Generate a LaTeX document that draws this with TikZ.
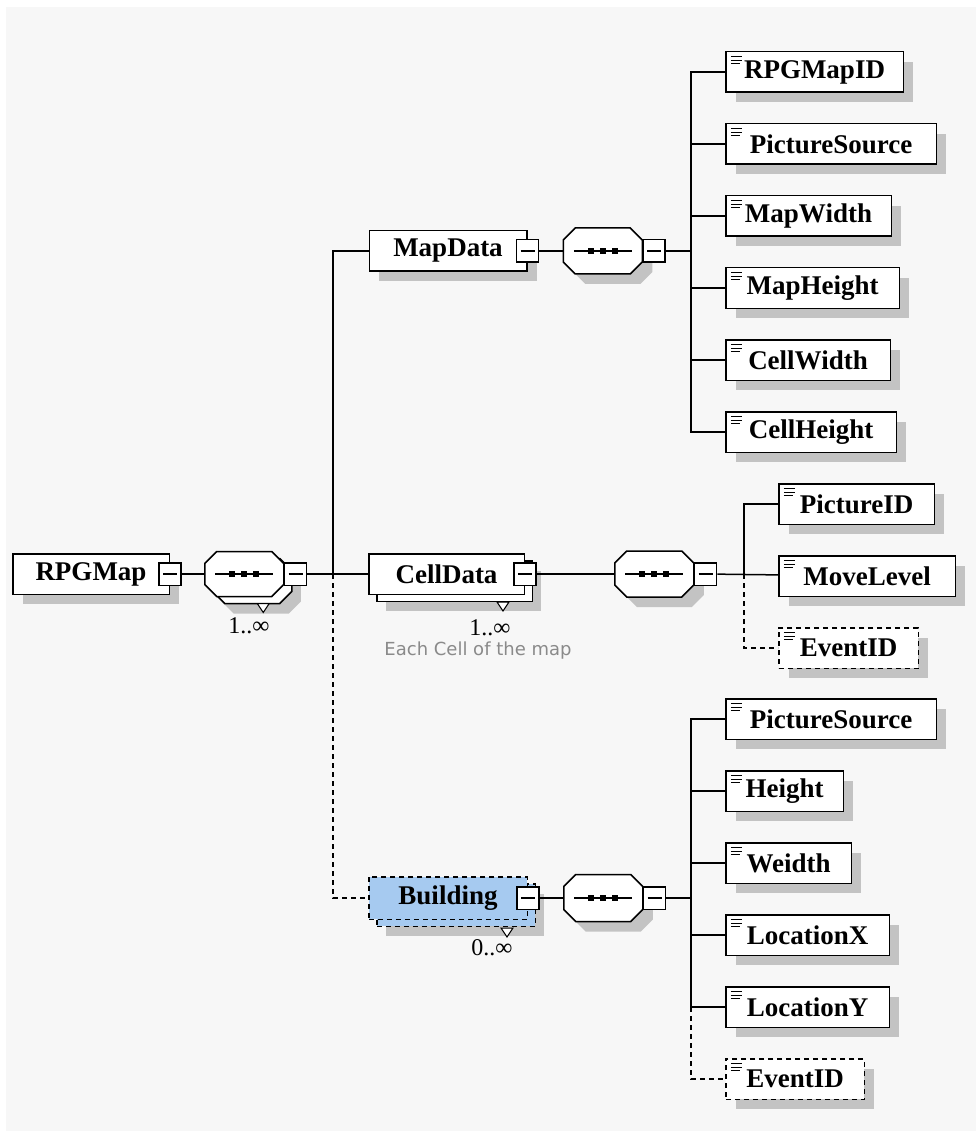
\documentclass[tikz,border=0pt]{standalone}
\usepackage{fontspec}
\setmainfont{Liberation Serif}
\newfontfamily\notefont{DejaVu Sans}
\usetikzlibrary{shadows, positioning}

\definecolor{bggray}{RGB}{247,247,247}
\definecolor{shadowgray}{RGB}{195,195,195}
\definecolor{buildblue}{RGB}{166,202,240}
\definecolor{notegray}{RGB}{138,138,138}

% sequence compositor: octagon with the dotted bar, drawn round a named node
\newcommand{\seqoutline}[2]{%
	\draw[draw=black, fill=white, #2]
		([xshift=12pt]#1.north west) -- ([xshift=-12pt]#1.north east)
		-- ([yshift=-12pt]#1.north east) -- ([yshift=12pt]#1.south east)
		-- ([xshift=-12pt]#1.south east) -- ([xshift=12pt]#1.south west)
		-- ([yshift=12pt]#1.south west) -- ([yshift=-12pt]#1.north west) -- cycle;
	\draw ([xshift=-29pt]#1.center) -- ([xshift=29pt]#1.center);
	\fill[black] ([xshift=-15pt,yshift=-3pt]#1.center) rectangle ++(6pt,6pt);
	\fill[black] ([xshift=-3pt,yshift=-3pt]#1.center) rectangle ++(6pt,6pt);
	\fill[black] ([xshift=9pt,yshift=-3pt]#1.center) rectangle ++(6pt,6pt);
}

\begin{document}
\begin{tikzpicture}[
			x=1pt, y=-1pt,
			line width=1.5pt,
			dashline/.style={dash pattern=on 5pt off 4pt},
			boxshadow/.style={
				drop shadow={shadow xshift=10pt, shadow yshift=-10pt, fill=shadowgray, opacity=1}
			},
			stacked/.style={
				drop shadow={shadow xshift=17pt, shadow yshift=-17pt, fill=shadowgray, opacity=1},
				copy shadow={shadow xshift=8pt, shadow yshift=-7pt}
			},
			element/.style={
				rectangle,
				draw=black,
				fill=white,
				minimum height=40.5pt,
				inner sep=2pt,
				font=\fontsize{27}{30}\selectfont\bfseries
			},
			leaf/.style={
				element,
				boxshadow,
				path picture={
					\draw[line width=1.2pt, solid]
						([xshift=5pt,yshift=-5pt]path picture bounding box.north west) -- ++(11pt,0pt)
						([xshift=5pt,yshift=-8.5pt]path picture bounding box.north west) -- ++(11pt,0pt)
						([xshift=5pt,yshift=-12pt]path picture bounding box.north west) -- ++(9pt,0pt);
				}
			},
			seq/.style={
				rectangle,
				minimum width=79pt,
				minimum height=46pt,
				inner sep=0pt,
				outer sep=0pt
			},
			minusbox/.style={
				rectangle,
				draw=black,
				fill=white,
				solid,
				minimum width=22pt,
				minimum height=22.5pt,
				inner sep=0pt,
				path picture={
					\draw ([xshift=4pt]path picture bounding box.west) -- ([xshift=-4pt]path picture bounding box.east);
				}
			},
			occurs/.style={inner sep=0pt, font=\fontsize{24}{26}\selectfont},
			annot/.style={inner sep=0pt, text=notegray, font=\notefont\fontsize{18}{20}\selectfont}
			]
			
			% Background
			\useasboundingbox (0,0) rectangle (976,1131);
			\fill[white] (0,0) rectangle (976,1131);
			\fill[bggray] (6,7) rectangle (976,1131);
			
			% Root
			\node (rpgmap) [element, boxshadow, minimum width=156.5pt] at (91,574) {RPGMap};
			\node (rpgmapm) [minusbox] at (rpgmap.east) {};
			\node (rootseq) [seq, minimum height=45pt, right=23pt of rpgmapm] {};
			\seqoutline{rootseq}{stacked}
			\node (rootseqm) [minusbox, right=0pt of rootseq] {};
			\node (rootocc) [occurs] at (249,626) {1..∞};
			\coordinate (trunk) at (333,574);
			
			% MapData
			\node (mapdata) [element, boxshadow, minimum width=157.5pt] at (448,251) {MapData};
			\node (mapdatam) [minusbox] at (mapdata.east) {};
			\node (mapseq) [seq, right=24pt of mapdatam] {};
			\seqoutline{mapseq}{boxshadow}
			\node (mapseqm) [minusbox, right=0pt of mapseq] {};
			\coordinate (mapbus) at (691,251);
			
			\node (rpgmapid) [leaf, minimum width=177.5pt, anchor=north west] at (725,51) {RPGMapID};
			\node (mappicsrc) [leaf, minimum width=210.5pt, below=30pt of rpgmapid.south west, anchor=north west] {PictureSource};
			\node (mapwidth) [leaf, minimum width=165.5pt, below=30pt of mappicsrc.south west, anchor=north west] {MapWidth};
			\node (mapheight) [leaf, minimum width=173.5pt, below=30pt of mapwidth.south west, anchor=north west] {MapHeight};
			\node (cellwidth) [leaf, minimum width=164.5pt, below=30pt of mapheight.south west, anchor=north west] {CellWidth};
			\node (cellheight) [leaf, minimum width=170.5pt, below=30pt of cellwidth.south west, anchor=north west] {CellHeight};
			
			% CellData
			\node (celldata) [element, stacked, minimum width=155.5pt] at (446.5,574) {CellData};
			\node (celldatam) [minusbox] at (celldata.east) {};
			\node (cellseq) [seq, right=78pt of celldatam] {};
			\seqoutline{cellseq}{boxshadow}
			\node (cellseqm) [minusbox, right=0pt of cellseq] {};
			\node (cellocc) [occurs] at (490,628) {1..∞};
			\node (cellnote) [annot] at (478,651) {Each Cell of the map};
			\coordinate (cellbus) at (744,574);
			
			\node (pictureid) [leaf, minimum width=155.5pt, anchor=north west] at (778,483) {PictureID};
			\node (movelevel) [leaf, minimum width=176.5pt, below=30pt of pictureid.south west, anchor=north west] {MoveLevel};
			\node (celleventid) [leaf, dashline, minimum width=139.5pt, below=30pt of movelevel.south west, anchor=north west] {EventID};
			
			% Building
			\node (building) [element, stacked, dashline, fill=buildblue, minimum width=158.5pt, minimum height=42.5pt] at (448,898) {Building};
			\node (buildingm) [minusbox] at (building.east) {};
			\node (bldseq) [seq, minimum height=47pt, right=24pt of buildingm] {};
			\seqoutline{bldseq}{boxshadow}
			\node (bldseqm) [minusbox, right=0pt of bldseq] {};
			\node (bldocc) [occurs] at (492,948) {0..∞};
			\coordinate (bldbus) at (691,898);
			
			\node (bldpicsrc) [leaf, minimum width=210.5pt, anchor=north west] at (725,698) {PictureSource};
			\node (bldheight) [leaf, minimum width=117.5pt, below=30pt of bldpicsrc.south west, anchor=north west] {Height};
			\node (bldwidth) [leaf, minimum width=125.5pt, below=30pt of bldheight.south west, anchor=north west] {Weidth};
			\node (locx) [leaf, minimum width=163.5pt, below=30pt of bldwidth.south west, anchor=north west] {LocationX};
			\node (locy) [leaf, minimum width=163.5pt, below=30pt of locx.south west, anchor=north west] {LocationY};
			\node (bldeventid) [leaf, dashline, minimum width=138.5pt, below=30pt of locy.south west, anchor=north west] {EventID};
			
			% Repetition marks
			\draw[fill=white, line width=1pt] ([xshift=13pt,yshift=-7pt]rootseq.south) -- ++(12,0) -- ++(-6,9) -- cycle;
			\draw[fill=white, line width=1pt] ([xshift=-28pt,yshift=-7pt]celldata.south east) -- ++(12,0) -- ++(-6,9) -- cycle;
			\draw[fill=white, line width=1pt] ([xshift=-27pt,yshift=-8pt]building.south east) -- ++(12,0) -- ++(-6,9) -- cycle;
			
			% Connectors
			\draw (rpgmapm) -- (rootseq);
			\draw (rootseqm) -- (celldata);
			\draw (trunk) |- (mapdata);
			\draw[dashline] (trunk) |- (building);
			
			\draw (mapdatam) -- (mapseq);
			\draw (mapseqm) -- (mapbus);
			\draw (mapbus) |- (rpgmapid);
			\draw (mapbus) |- (mappicsrc);
			\draw (mapbus) |- (mapwidth);
			\draw (mapbus) |- (mapheight);
			\draw (mapbus) |- (cellwidth);
			\draw (mapbus) |- (cellheight);
			
			\draw (celldatam) -- (cellseq);
			\draw (cellseqm) -- (movelevel);
			\draw (cellbus) |- (pictureid);
			\draw[dashline] (cellbus) |- (celleventid);
			
			\draw (buildingm) -- (bldseq);
			\draw (bldseqm) -- (bldbus);
			\draw (bldbus) |- (bldpicsrc);
			\draw (bldbus) |- (bldheight);
			\draw (bldbus) |- (bldwidth);
			\draw (bldbus) |- (locx);
			\draw (bldbus) |- (locy);
			\draw[dashline] (bldbus |- locy) |- (bldeventid);
			
		\end{tikzpicture}
\end{document}
